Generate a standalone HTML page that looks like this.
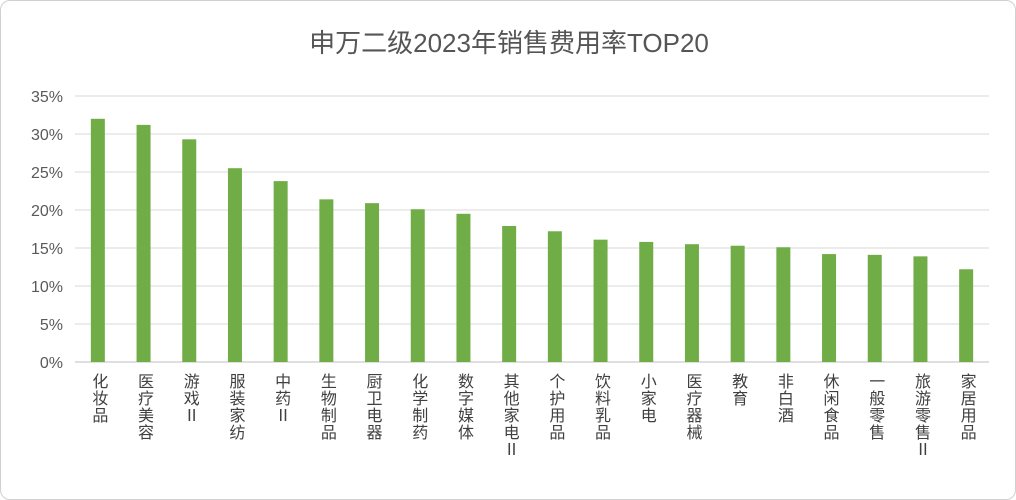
<!DOCTYPE html>
<html><head><meta charset="utf-8">
<style>
body{margin:0;background:#fff;}
#wrap{position:relative;width:1014px;height:498px;border:1px solid #d0d0d0;border-radius:10px;overflow:hidden;background:#fff;font-family:"Liberation Sans","Noto Sans CJK SC",sans-serif;}
#title{position:absolute;left:0;width:1016px;top:22px;text-align:center;font-size:26px;color:#555;}
svg{position:absolute;left:0;top:0;}
</style></head>
<body>
<div id="wrap">
<div id="title">申万二级2023年销售费用率TOP20</div>
<svg id="chart" width="1016" height="500"></svg>
</div>
<script>
const categories=["化妆品","医疗美容","游戏Ⅱ","服装家纺","中药Ⅱ","生物制品","厨卫电器","化学制药","数字媒体","其他家电Ⅱ","个护用品","饮料乳品","小家电","医疗器械","教育","非白酒","休闲食品","一般零售","旅游零售Ⅱ","家居用品"];
const values=[32.0,31.2,29.3,25.5,23.8,21.4,20.9,20.1,19.5,17.9,17.2,16.1,15.8,15.5,15.3,15.1,14.2,14.1,13.9,12.2];
const tickValues=[0,5,10,15,20,25,30,35];
const tickLabels=["0%","5%","10%","15%","20%","25%","30%","35%"];
const svg=document.getElementById('chart');
const NS='http://www.w3.org/2000/svg';
const x0=74,x1=988,y0=361,yTop=95,maxV=35;
const y=v=>y0-(v/maxV)*(y0-yTop);
const band=(x1-x0)/categories.length;
const xc=i=>x0+band*(i+0.5);
function mk(t,a){const e=document.createElementNS(NS,t);for(const k in a)e.setAttribute(k,a[k]);svg.appendChild(e);return e;}
tickValues.forEach((v,i)=>{
  const g=mk('line',{x1:x0,x2:x1,y1:y(v),y2:y(v),stroke:v===0?'#bfbfbf':'#d9d9d9','stroke-width':1});
  
  
  const t=mk('text',{x:x0-12,y:y(v)+6,'text-anchor':'end','font-size':16,fill:'#595959'});
  t.textContent=tickLabels[i];
  
  
});
values.forEach((v,i)=>{
  const r=mk('rect',{x:xc(i)-7,y:y(v),width:14,height:y0-y(v),fill:'#70ad47'});
  
  
  const t=mk('text',{x:xc(i),y:372,'font-size':16,fill:'#404040','writing-mode':'tb','glyph-orientation-vertical':0,style:'writing-mode:vertical-rl;text-orientation:upright;letter-spacing:1px'});
  t.textContent=categories[i];
  
  
});
</script>
</body></html>
